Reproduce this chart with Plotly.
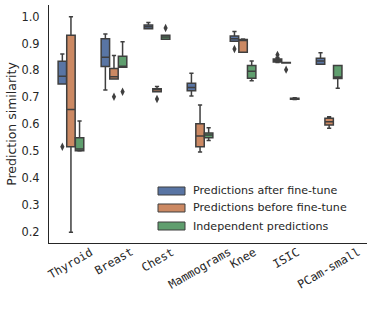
import plotly.graph_objects as go

categories = ["Thyroid", "Breast", "Chest", "Mammograms", "Knee", "ISIC", "PCam-small"]
series_names = ["Predictions after fine-tune", "Predictions before fine-tune", "Independent predictions"]
colors = ["#5975A4", "#CC8963", "#5F9E6E"]

# after fine-tune
after_lo = [0.750, 0.727, 0.955, 0.705, 0.909, 0.830, 0.823]
after_q1 = [0.750, 0.815, 0.955, 0.724, 0.909, 0.831, 0.823]
after_med = [0.778, 0.849, 0.963, 0.737, 0.918, 0.837, 0.835]
after_q3 = [0.834, 0.918, 0.969, 0.752, 0.928, 0.843, 0.845]
after_hi = [0.861, 0.936, 0.978, 0.790, 0.945, 0.848, 0.866]
after_out = [[0.516], [], [], [], [0.880], [0.858], []]

# before fine-tune
before_lo = [0.198, 0.768, 0.721, 0.497, 0.868, 0.828, 0.585]
before_q1 = [0.516, 0.768, 0.721, 0.516, 0.868, 0.828, 0.597]
before_med = [0.655, 0.777, 0.728, 0.556, 0.912, 0.829, 0.609]
before_q3 = [0.931, 0.807, 0.732, 0.602, 0.915, 0.830, 0.622]
before_hi = [1.000, 0.856, 0.740, 0.671, 0.917, 0.830, 0.628]
before_out = [[], [0.702], [0.694], [], [], [0.803], []]

# independent
indep_lo = [0.500, 0.812, 0.916, 0.539, 0.762, 0.692, 0.734]
indep_q1 = [0.501, 0.812, 0.916, 0.550, 0.771, 0.693, 0.770]
indep_med = [0.508, 0.814, 0.924, 0.560, 0.797, 0.695, 0.776]
indep_q3 = [0.550, 0.853, 0.931, 0.567, 0.818, 0.697, 0.818]
indep_hi = [0.612, 0.907, 0.931, 0.587, 0.835, 0.698, 0.818]
indep_out = [[], [0.721], [0.958], [], [], [], []]

y_ticks = [0.2, 0.3, 0.4, 0.5, 0.6, 0.7, 0.8, 0.9, 1.0]

stats = [
    (after_lo, after_q1, after_med, after_q3, after_hi, after_out),
    (before_lo, before_q1, before_med, before_q3, before_hi, before_out),
    (indep_lo, indep_q1, indep_med, indep_q3, indep_hi, indep_out),
]

EDGE = "#3f3f3f"
TEXT = "#262626"
hue_w = 0.2
fig = go.Figure()
for j, (lo, q1, med, q3, hi, outs) in enumerate(stats):
    off = (j - 1) * hue_w
    xs = [i + off for i in range(len(categories))]
    fig.add_trace(go.Box(
        x=xs, lowerfence=lo, q1=q1, median=med, q3=q3, upperfence=hi,
        width=hue_w * 0.98, name=series_names[j], showlegend=False,
        fillcolor=colors[j], line=dict(color=EDGE, width=1.5),
        whiskerwidth=0.5, boxpoints=False, hoverinfo="skip",
    ))
    ox, oy = [], []
    for i, lst in enumerate(outs):
        for v in lst:
            ox.append(i + off)
            oy.append(v)
    fig.add_trace(go.Scatter(
        x=ox, y=oy, mode="markers", showlegend=False,
        marker=dict(symbol="diamond-tall", size=6, color=EDGE, line=dict(width=0)),
    ))

# category labels (rotated about their centre, like matplotlib)
for i, c in enumerate(categories):
    fig.add_annotation(
        x=i, y=0, xref="x", yref="paper", text=c, showarrow=False,
        textangle=-30, xanchor="center", yanchor="top", yshift=1,
        font=dict(family="DejaVu Sans Mono", size=11.6, color=TEXT),
    )

# legend (patch + label)
leg_x0, leg_x1, leg_tx = 0.3428, 0.4277, 0.4480
leg_y = [0.2185, 0.1471, 0.0714]
leg_h = 0.0168
for j, name in enumerate(series_names):
    fig.add_shape(
        type="rect", xref="paper", yref="paper",
        x0=leg_x0, x1=leg_x1, y0=leg_y[j] - leg_h, y1=leg_y[j] + leg_h,
        fillcolor=colors[j], line=dict(color=EDGE, width=1),
    )
    fig.add_annotation(
        x=leg_tx, y=leg_y[j], xref="paper", yref="paper", text=name,
        showarrow=False, xanchor="left", yanchor="middle",
        font=dict(size=11.1, color=TEXT),
    )

fig.update_layout(
    width=374, height=311,
    margin=dict(l=49, r=7, t=5, b=68),
    paper_bgcolor="white", plot_bgcolor="white",
    font=dict(family="DejaVu Sans", size=11.6, color=TEXT),
    showlegend=False,
    xaxis=dict(
        range=[-0.51, 6.88], showgrid=False, zeroline=False,
        showticklabels=False, ticks="", showline=True,
        linecolor=TEXT, linewidth=1.3, automargin=False,
    ),
    yaxis=dict(
        range=[0.158, 1.0435], tickvals=y_ticks, tickformat=".1f",
        showgrid=False, zeroline=False, ticks="", showline=True,
        linecolor=TEXT, linewidth=1.3, ticklabelstandoff=6, automargin=False,
        title=dict(text="Prediction similarity", font=dict(size=12.5), standoff=2),
        tickfont=dict(size=11.4),
    ),
)

fig.write_html("out.html", post_script="document.body.style.margin='0px';",
               config={"displayModeBar": False})
